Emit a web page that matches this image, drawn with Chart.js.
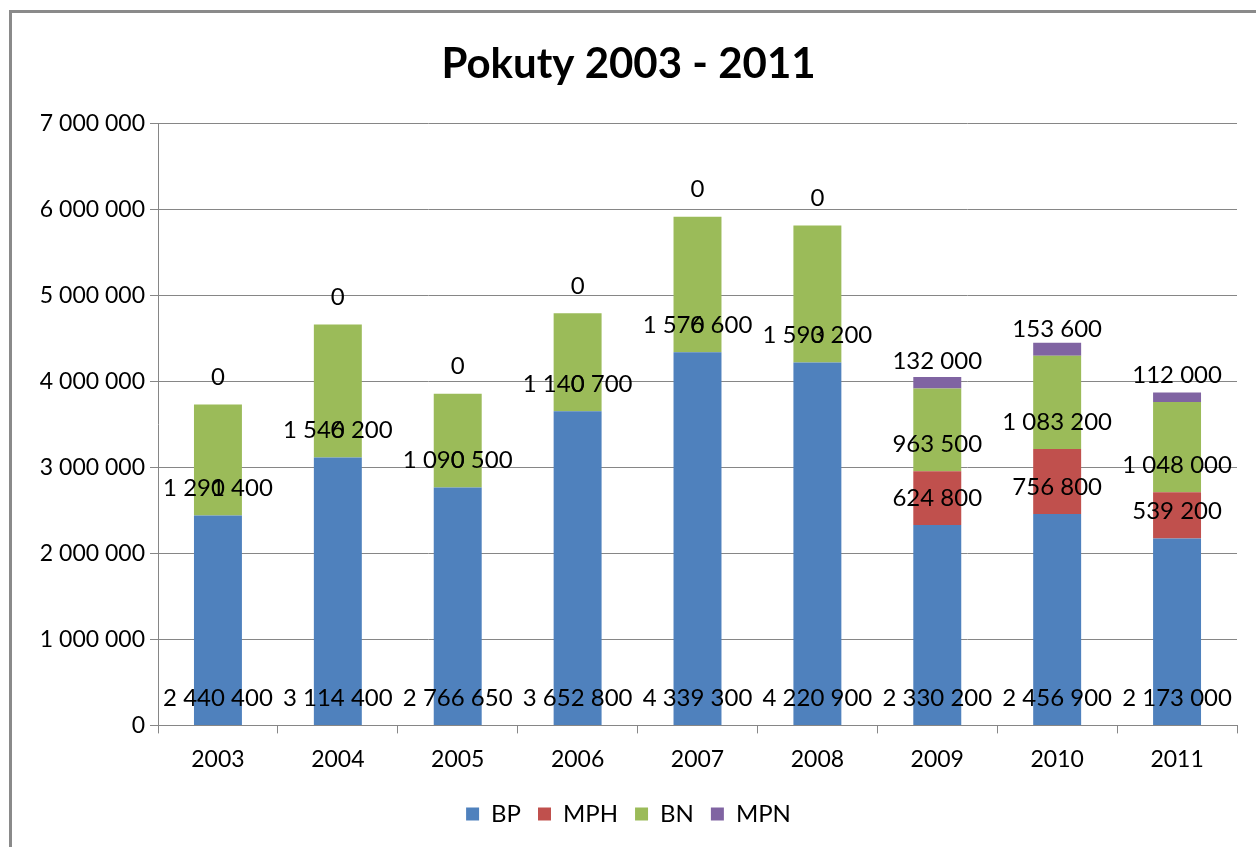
<!DOCTYPE html>
<html>
<head>
<meta charset="utf-8">
<script src="https://cdn.jsdelivr.net/npm/chart.js@4.4.1/dist/chart.umd.min.js"></script>
<style>
  html, body { margin: 0; padding: 0; background: #fff; }
  #wrap { width: 1256px; height: 847px; position: relative; }
</style>
</head>
<body>
<div id="wrap"><canvas id="chart" width="1256" height="847"></canvas></div>
<script>
// --- data ---
const years = ['2003', '2004', '2005', '2006', '2007', '2008', '2009', '2010', '2011'];
const bpValues  = [2440400, 3114400, 2766650, 3652800, 4339300, 4220900, 2330200, 2456900, 2173000];
const mphValues = [0, 0, 0, 0, 0, 0, 624800, 756800, 539200];
const bnValues  = [1291400, 1546200, 1090500, 1140700, 1576600, 1593200, 963500, 1083200, 1048000];
const mpnValues = [0, 0, 0, 0, 0, 0, 132000, 153600, 112000];
const yTicks = [0, 1000000, 2000000, 3000000, 4000000, 5000000, 6000000, 7000000];

const FONT = 'Lato, "Open Sans", sans-serif';

// "1234567" -> "1 234 567"
function fmt(v) {
  return String(v).replace(/\B(?=(\d{3})+(?!\d))/g, ' ');
}

// Excel-style "inside base" data labels
const baseLabels = {
  id: 'baseLabels',
  afterDatasetsDraw(chart) {
    const ctx = chart.ctx;
    ctx.save();
    ctx.font = '24px ' + FONT;
    ctx.fillStyle = '#000';
    ctx.textAlign = 'center';
    ctx.textBaseline = 'middle';
    chart.data.datasets.forEach((ds, i) => {
      const meta = chart.getDatasetMeta(i);
      meta.data.forEach((bar, j) => {
        ctx.fillText(fmt(ds.data[j]), bar.x, bar.base - 27);
      });
    });
    ctx.restore();
  }
};

// grey frame, only its left and top edges are in view
const frame = {
  id: 'frame',
  beforeDraw(chart) {
    const ctx = chart.ctx;
    ctx.save();
    ctx.strokeStyle = '#8a8a8a';
    ctx.lineWidth = 3;
    ctx.strokeRect(10.5, 11.5, 1400, 1000);
    ctx.restore();
  }
};

new Chart(document.getElementById('chart'), {
  type: 'bar',
  data: {
    labels: years,
    datasets: [
      { label: 'BP',  data: bpValues,  backgroundColor: '#4F81BD' },
      { label: 'MPH', data: mphValues, backgroundColor: '#C0504D' },
      { label: 'BN',  data: bnValues,  backgroundColor: '#9BBB59' },
      { label: 'MPN', data: mpnValues, backgroundColor: '#8064A2' }
    ]
  },
  options: {
    responsive: false,
    animation: false,
    devicePixelRatio: 1,
    layout: { padding: { left: 20, right: 19, top: 0, bottom: 11 } },
    datasets: { bar: { categoryPercentage: 1, barPercentage: 0.4 } },
    plugins: {
      title: {
        display: true,
        text: 'Pokuty 2003 - 2011',
        color: '#000',
        font: { family: FONT, size: 42, weight: 'bold' },
        padding: { top: 39, bottom: 34 }
      },
      legend: {
        position: 'bottom',
        labels: {
          color: '#000',
          font: { family: FONT, size: 24 },
          boxWidth: 13,
          boxHeight: 13,
          padding: 17
        }
      },
      tooltip: { enabled: false }
    },
    scales: {
      x: {
        stacked: true,
        grid: { drawOnChartArea: false, color: '#868686', tickLength: 8 },
        border: { color: '#868686' },
        ticks: { color: '#000', font: { family: FONT, size: 23 }, padding: 12 }
      },
      y: {
        stacked: true,
        min: 0,
        max: yTicks[yTicks.length - 1],
        afterBuildTicks(scale) { scale.ticks = yTicks.map(v => ({ value: v })); },
        afterFit(scale) { scale.width = 138; },
        grid: { color: '#868686', tickLength: 8 },
        border: { color: '#868686' },
        ticks: {
          color: '#000',
          font: { family: FONT, size: 23 },
          padding: 5,
          callback: v => fmt(v)
        }
      }
    }
  },
  plugins: [frame, baseLabels]
});
</script>
</body>
</html>
